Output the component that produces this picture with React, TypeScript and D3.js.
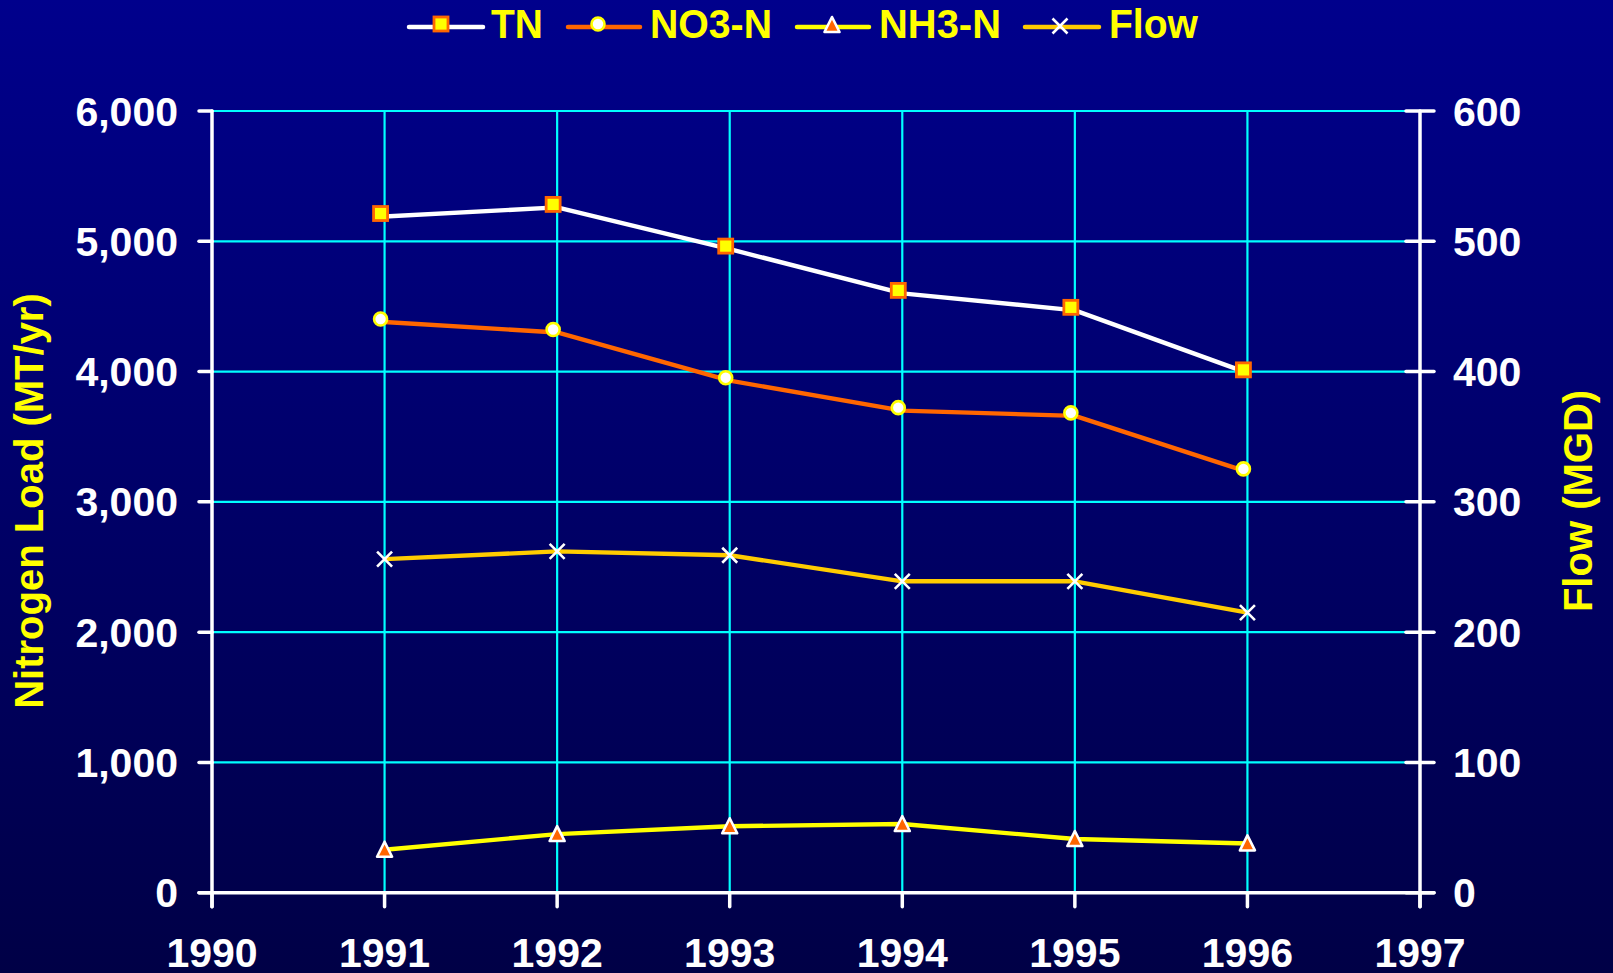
import React from "react";
import * as d3 from "d3";

const years = [1991, 1992, 1993, 1994, 1995, 1996];
const tn = [5190, 5260, 4940, 4600, 4470, 3990];
const no3 = [4380, 4300, 3930, 3700, 3660, 3230];
const nh3 = [330, 450, 510, 527, 412, 378];
const flow = [256, 262, 259, 239, 239, 215];
const xTicks = [1990, 1991, 1992, 1993, 1994, 1995, 1996, 1997];
const leftTicks = [0, 1000, 2000, 3000, 4000, 5000, 6000];
const rightTicks = [0, 100, 200, 300, 400, 500, 600];

const W = 1613;
const H = 973;
const FONT = "'Liberation Sans', Arial, Helvetica, sans-serif";

const x = d3.scaleLinear().domain([1990, 1997]).range([212, 1420]);
const yL = d3.scaleLinear().domain([0, 6000]).range([892.7, 111]);
const yR = d3.scaleLinear().domain([0, 600]).range([892.7, 111]);

const fmt = d3.format(",");

function Square({ cx, cy, s = 14 }: { cx: number; cy: number; s?: number }) {
  return (
    <rect x={cx - s / 2} y={cy - s / 2} width={s} height={s} fill="#ffff00" stroke="#ff6600" strokeWidth={2.8} />
  );
}
function Circle({ cx, cy }: { cx: number; cy: number }) {
  return <circle cx={cx} cy={cy} r={6.5} fill="#ffffff" stroke="#ffff00" strokeWidth={2.6} />;
}
function Tri({ cx, cy }: { cx: number; cy: number }) {
  const w = 15, h = 14;
  return (
    <path
      d={`M${cx},${cy - h / 2 - 1}L${cx + w / 2},${cy + h / 2}L${cx - w / 2},${cy + h / 2}Z`}
      fill="#ff6600"
      stroke="#ffffff"
      strokeWidth={2.6}
      strokeLinejoin="round"
    />
  );
}
function Cross({ cx, cy }: { cx: number; cy: number }) {
  const r = 7.5;
  return (
    <path
      d={`M${cx - r},${cy - r}L${cx + r},${cy + r}M${cx - r},${cy + r}L${cx + r},${cy - r}`}
      stroke="#ffffff"
      strokeWidth={2.6}
    />
  );
}

export default function App() {
  const lineL = d3
    .line<number>()
    .x((_, i) => x(years[i]))
    .y((d) => yL(d));
  const lineR = d3
    .line<number>()
    .x((_, i) => x(years[i]))
    .y((d) => yR(d));

  const legend = [
    { label: "TN", x0: 409, x1: 483, mx: 441, tx: 491, tw: 52, color: "#ffffff", m: "sq" },
    { label: "NO3-N", x0: 568, x1: 640, mx: 598, tx: 650, tw: 122, color: "#ff6600", m: "ci" },
    { label: "NH3-N", x0: 797, x1: 869, mx: 832, tx: 879, tw: 122, color: "#ffff00", m: "tr" },
    { label: "Flow", x0: 1025, x1: 1099, mx: 1060, tx: 1109, tw: 89, color: "#ffcc00", m: "x" },
  ];

  const dx = -4, dy = -3;

  return (
    <svg
      width={W}
      height={H}
      style={{ position: "fixed", left: 0, top: 0, display: "block" }}
      fontFamily={FONT}
    >
      <defs>
        <linearGradient id="bg" x1="0" y1="0" x2="0" y2="1">
          <stop offset="0" stopColor="#00008c" />
          <stop offset="1" stopColor="#000046" />
        </linearGradient>
      </defs>
      <rect x={0} y={0} width={W} height={H} fill="url(#bg)" />

      {/* grid */}
      <g stroke="#00ffff" strokeWidth={2.2}>
        {leftTicks.slice(1).map((t) => (
          <line key={"h" + t} x1={x(1990)} x2={x(1997)} y1={yL(t)} y2={yL(t)} />
        ))}
        {years.map((t) => (
          <line key={"v" + t} x1={x(t)} x2={x(t)} y1={yL(6000)} y2={yL(0)} />
        ))}
      </g>

      {/* axes */}
      <g stroke="#ffffff" strokeWidth={3.5} strokeLinecap="round">
        <line x1={x(1990)} x2={x(1990)} y1={yL(6000)} y2={yL(0) + 14} />
        <line x1={x(1997)} x2={x(1997)} y1={yR(600)} y2={yR(0) + 14} />
        <line x1={x(1990) - 13} x2={x(1997) + 14} y1={yL(0)} y2={yL(0)} />
        {leftTicks.map((t) => (
          <line key={"lt" + t} x1={x(1990) - 13} x2={x(1990)} y1={yL(t)} y2={yL(t)} />
        ))}
        {rightTicks.map((t) => (
          <line key={"rt" + t} x1={x(1997) - 14} x2={x(1997) + 14} y1={yR(t)} y2={yR(t)} />
        ))}
        {xTicks.map((t) => (
          <line key={"xt" + t} x1={x(t)} x2={x(t)} y1={yL(0)} y2={yL(0) + 14} />
        ))}
      </g>

      {/* tick labels */}
      <g fill="#ffffff" fontWeight="bold" fontSize={41}>
        {leftTicks.map((t) => (
          <text key={"ll" + t} x={178} y={yL(t) + 14.5} textAnchor="end">
            {fmt(t)}
          </text>
        ))}
        {rightTicks.map((t) => (
          <text key={"rl" + t} x={1453} y={yR(t) + 14.5} textAnchor="start">
            {fmt(t)}
          </text>
        ))}
        {xTicks.map((t) => (
          <text key={"xl" + t} x={x(t)} y={967} textAnchor="middle">
            {t}
          </text>
        ))}
      </g>

      {/* axis titles */}
      <g fill="#ffff00" fontWeight="bold" fontSize={40}>
        <text transform="translate(43,501) rotate(-90)" textAnchor="middle">
          Nitrogen Load (MT/yr)
        </text>
        <text transform="translate(1592,501) rotate(-90)" textAnchor="middle">
          Flow (MGD)
        </text>
      </g>

      {/* series lines */}
      <g fill="none" strokeWidth={4.4} strokeLinejoin="round">
        <path d={lineR(flow) || ""} stroke="#ffcc00" />
        <path d={lineL(nh3) || ""} stroke="#ffff00" />
        <path d={lineL(no3) || ""} stroke="#ff6600" />
        <path d={lineL(tn) || ""} stroke="#ffffff" />
      </g>

      {/* markers */}
      <g>
        {flow.map((v, i) => (
          <Cross key={"f" + i} cx={x(years[i])} cy={yR(v)} />
        ))}
        {nh3.map((v, i) => (
          <Tri key={"n" + i} cx={x(years[i])} cy={yL(v)} />
        ))}
        {no3.map((v, i) => (
          <Circle key={"o" + i} cx={x(years[i]) + dx} cy={yL(v) + dy} />
        ))}
        {tn.map((v, i) => (
          <Square key={"t" + i} cx={x(years[i]) + dx} cy={yL(v) + dy} />
        ))}
      </g>

      {/* legend */}
      <g>
        {legend.map((l) => (
          <g key={l.label}>
            <line x1={l.x0} x2={l.x1} y1={27} y2={27} stroke={l.color} strokeWidth={4.5} strokeLinecap="round" />
            {l.m === "sq" && <Square cx={l.mx} cy={24} s={14} />}
            {l.m === "ci" && <Circle cx={l.mx} cy={24} />}
            {l.m === "tr" && <Tri cx={l.mx} cy={25} />}
            {l.m === "x" && <Cross cx={l.mx} cy={26} />}
            <text
              x={l.tx}
              y={38}
              fill="#ffff00"
              fontWeight="bold"
              fontSize={40}
              textLength={l.tw}
              lengthAdjust="spacingAndGlyphs"
            >
              {l.label}
            </text>
          </g>
        ))}
      </g>
    </svg>
  );
}
